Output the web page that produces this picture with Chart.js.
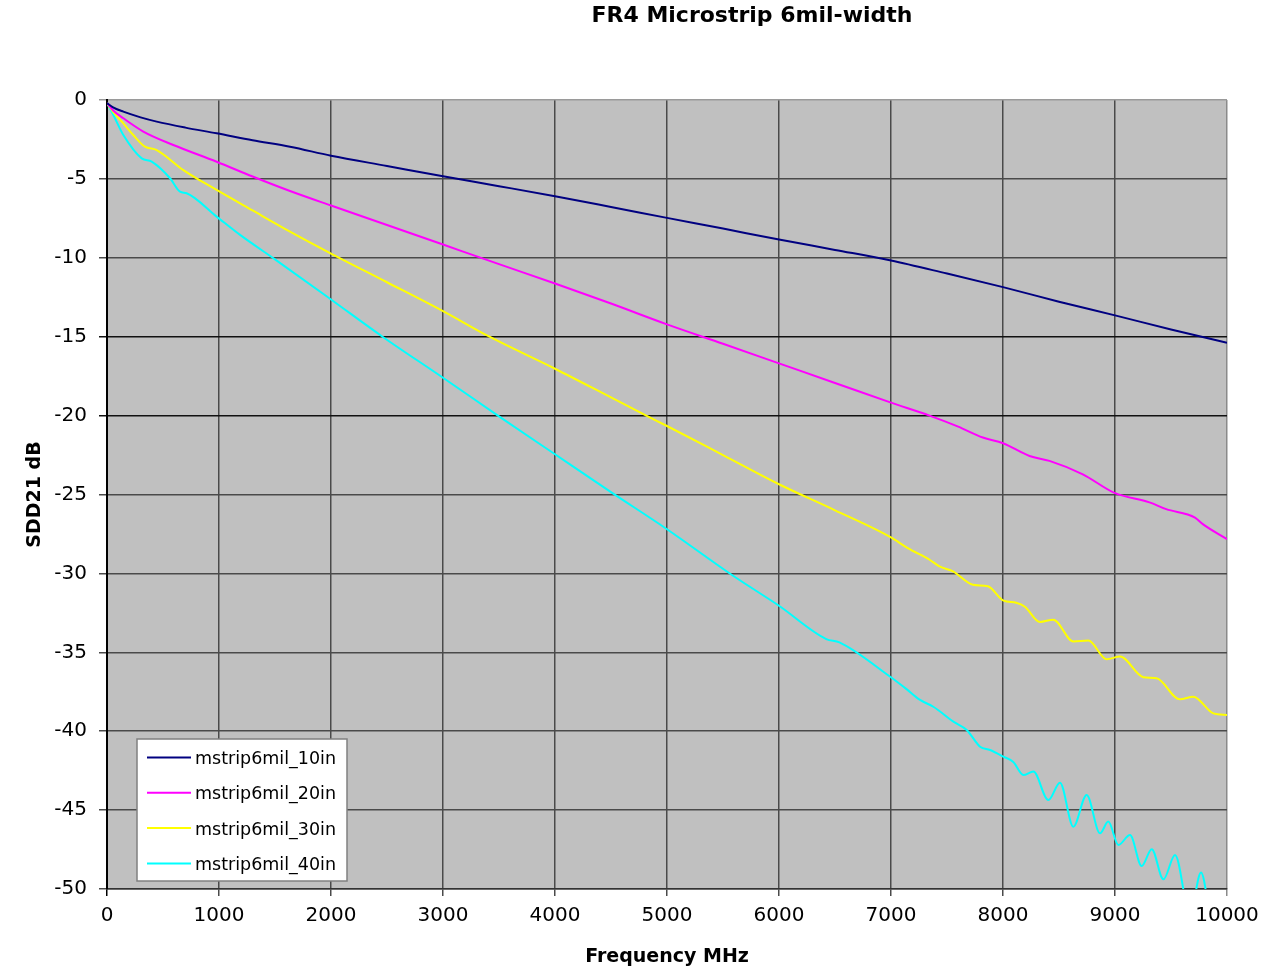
<!DOCTYPE html>
<html>
<head>
<meta charset="utf-8">
<script src="https://cdn.jsdelivr.net/npm/chart.js@4.4.1/dist/chart.umd.min.js"></script>
<style>
  html, body { margin: 0; padding: 0; background: #ffffff; }
  #wrap { width: 1285px; height: 971px; }
</style>
</head>
<body>
<div id="wrap"><canvas id="c" width="1285" height="971"></canvas></div>
<script>
// ---- Data ----
const chartTitle = 'FR4 Microstrip 6mil-width';
const xTitle = 'Frequency MHz';
const yTitle = 'SDD21 dB';
const seriesNames = ['mstrip6mil_10in', 'mstrip6mil_20in', 'mstrip6mil_30in', 'mstrip6mil_40in'];
const seriesColors = ['#000080', '#FF00FF', '#FFFF00', '#00FFFF'];

const freq10 = [0, 50, 146, 300, 444, 700, 979, 1300, 1634, 2000, 2500, 3000, 3500, 4000, 4500, 5000, 5500, 6000, 6500, 7000, 7500, 8000, 8500, 9000, 9500, 9745, 10000];
const db10   = [-0.2, -0.45, -0.74, -1.1, -1.37, -1.75, -2.11, -2.55, -2.96, -3.53, -4.18, -4.83, -5.46, -6.10, -6.78, -7.47, -8.15, -8.84, -9.5, -10.17, -11.0, -11.86, -12.78, -13.65, -14.54, -14.96, -15.38];

const freq20 = [0, 60, 146, 324, 592, 979, 1300, 1634, 2000, 2500, 3000, 3500, 4000, 4500, 5000, 5500, 6000, 6500, 7000, 7344, 7600, 7820, 8000, 8237, 8415, 8713, 8996, 9308, 9457, 9714, 9784, 10000];
const db20   = [-0.2, -0.7, -1.16, -2.0, -2.85, -3.91, -4.85, -5.77, -6.69, -7.92, -9.16, -10.4, -11.63, -12.9, -14.22, -15.45, -16.69, -17.93, -19.18, -20.0, -20.7, -21.39, -21.75, -22.56, -22.87, -23.72, -24.9, -25.5, -25.93, -26.46, -26.88, -27.83];

const freq30 = [0, 60, 146, 235, 339, 444, 682, 979, 1300, 1634, 2000, 2500, 3000, 3415, 4000, 4500, 4815, 5000, 5500, 6000, 6500, 7000, 7150, 7348, 7433, 7557, 7731, 7865, 8005, 8118, 8196, 8330, 8449, 8628, 8762, 8926, 9045, 9253, 9372, 9580, 9699, 9878, 10000];
const db30   = [-0.2, -0.8, -1.48, -2.22, -2.96, -3.17, -4.44, -5.70, -7.0, -8.34, -9.73, -11.55, -13.38, -15.0, -17.03, -18.85, -20.0, -20.66, -22.5, -24.35, -26.0, -27.72, -28.4, -29.15, -29.56, -29.89, -30.72, -30.82, -31.73, -31.86, -32.11, -33.08, -32.93, -34.32, -34.26, -35.44, -35.27, -36.58, -36.65, -37.98, -37.81, -38.87, -38.97];

const freq40 = [0, 60, 146, 310, 399, 563, 652, 711, 979, 1188, 1500, 2000, 2460, 3000, 3490, 4000, 4500, 5000, 5590, 6000, 6422, 6540, 6987, 7136, 7259, 7378, 7557, 7676, 7795, 7884, 8003, 8092, 8182, 8271, 8405, 8509, 8628, 8747, 8866, 8940, 9030, 9134, 9238, 9328, 9432, 9536, 9670, 9768, 9880, 9970, 10000];
const db40   = [-0.2, -1.0, -2.22, -3.70, -3.91, -4.96, -5.81, -5.91, -7.39, -8.55, -10.1, -12.64, -15.0, -17.6, -20.0, -22.45, -24.85, -27.2, -30.15, -32.05, -34.16, -34.37, -36.52, -37.32, -38.02, -38.45, -39.39, -39.92, -40.98, -41.19, -41.61, -41.95, -42.78, -42.56, -44.36, -43.26, -46.05, -44.04, -46.47, -45.73, -47.21, -46.58, -48.54, -47.48, -49.39, -47.85, -51.6, -48.95, -52.5, -50.6, -51.0];

const xMin = 0, xMax = 10000, xStep = 1000;
const yMin = -50, yMax = 0, yStep = 5;

// ---- Build datasets from the arrays ----
const freqs = [freq10, freq20, freq30, freq40];
const dbs = [db10, db20, db30, db40];
const datasets = seriesNames.map((name, s) => ({
  label: name,
  data: freqs[s].map((f, i) => ({ x: f, y: dbs[s][i] })),
  borderColor: seriesColors[s],
  backgroundColor: seriesColors[s],
  borderWidth: 2,
  pointRadius: 0,
  fill: false,
  cubicInterpolationMode: 'monotone'
}));

const FONT = "'DejaVu Sans', 'Liberation Sans', Arial, sans-serif";

const bgPlugin = {
  id: 'bg',
  beforeDraw(chart) {
    const { ctx, chartArea: a } = chart;
    ctx.save();
    ctx.fillStyle = '#ffffff';
    ctx.fillRect(0, 0, chart.width, chart.height);
    ctx.fillStyle = '#C0C0C0';
    ctx.fillRect(a.left, a.top, a.right - a.left, a.bottom - a.top);
    ctx.restore();
  }
};

const titlePlugin = {
  id: 'customTitle',
  afterDraw(chart) {
    const ctx = chart.ctx;
    ctx.save();
    ctx.fillStyle = '#000000';
    ctx.font = "bold 22px " + FONT;
    ctx.textAlign = 'center';
    ctx.textBaseline = 'alphabetic';
    ctx.fillText(chartTitle, 752, 22);
    ctx.restore();
  }
};

const legendPlugin = {
  id: 'boxLegend',
  afterDraw(chart) {
    const ctx = chart.ctx;
    const a = chart.chartArea;
    const bx = a.left + 30, by = a.top + 639, bw = 210, bh = 142;
    ctx.save();
    ctx.fillStyle = '#ffffff';
    ctx.fillRect(bx, by, bw, bh);
    ctx.strokeStyle = '#808080';
    ctx.lineWidth = 1.5;
    ctx.strokeRect(bx, by, bw, bh);
    ctx.font = "17.5px " + FONT;
    ctx.textAlign = 'left';
    ctx.textBaseline = 'alphabetic';
    chart.data.datasets.forEach((ds, i) => {
      const ly = by + 18.5 + i * 35.3;
      ctx.strokeStyle = ds.borderColor;
      ctx.lineWidth = 2;
      ctx.beginPath();
      ctx.moveTo(bx + 10, ly);
      ctx.lineTo(bx + 54, ly);
      ctx.stroke();
      ctx.fillStyle = '#000000';
      ctx.fillText(ds.label, bx + 58, ly + 6.5);
    });
    ctx.restore();
  }
};

new Chart(document.getElementById('c'), {
  type: 'line',
  data: { datasets },
  plugins: [bgPlugin, titlePlugin, legendPlugin],
  options: {
    responsive: false,
    animation: false,
    devicePixelRatio: 1,
    layout: { padding: { left: 0, top: 100, right: 58, bottom: 0 } },
    plugins: {
      legend: { display: false },
      title: { display: false },
      tooltip: { enabled: false }
    },
    scales: {
      x: {
        type: 'linear',
        min: xMin, max: xMax,
        afterFit(s) { s.height = 82; },
        ticks: {
          stepSize: xStep,
          color: '#000000',
          font: { family: FONT, size: 20 },
          padding: 8,
          maxRotation: 0,
          autoSkip: false,
          callback: (v) => String(v)
        },
        grid: {
          color: (c) => (c.tick && c.tick.value === xMax) ? '#8a8a8a' : (c.tick && c.tick.value === xMin ? '#000000' : '#4a4a4a'),
          lineWidth: 1.5,
          tickLength: 7,
          drawTicks: true
        },
        border: { display: true, color: '#333333', width: 1.5 },
        title: {
          display: true,
          text: xTitle,
          color: '#000000',
          font: { family: FONT, size: 19, weight: 'bold' },
          padding: { top: 0, bottom: 3 }
        }
      },
      y: {
        type: 'linear',
        min: yMin, max: yMax,
        afterFit(s) { s.width = 107; },
        ticks: {
          stepSize: yStep,
          color: '#000000',
          font: { family: FONT, size: 20 },
          padding: 12,
          autoSkip: false,
          callback: (v) => String(v)
        },
        grid: {
          color: (c) => {
            const v = c.tick ? c.tick.value : null;
            if (v === -15 || v === -20) return '#111111';
            if (v === yMax) return '#9a9a9a';
            return '#4a4a4a';
          },
          lineWidth: 1.5,
          tickLength: 8,
          drawTicks: true
        },
        border: { display: true, color: '#000000', width: 2 },
        title: {
          display: true,
          text: yTitle,
          color: '#000000',
          font: { family: FONT, size: 19, weight: 'bold' },
          padding: { top: 24, bottom: 0 }
        }
      }
    }
  }
});
</script>
</body>
</html>
